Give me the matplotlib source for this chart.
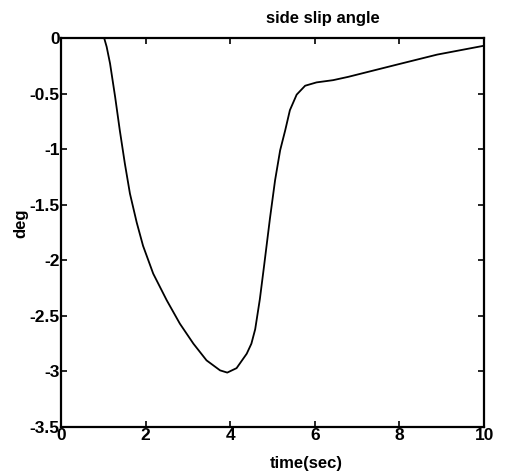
import matplotlib
matplotlib.use('Agg')
import matplotlib.pyplot as plt
import numpy as np

# side slip angle trace
t = [0.0, 1.02, 1.08, 1.16, 1.28, 1.39, 1.51, 1.63, 1.79, 1.94, 2.18, 2.50,
     2.81, 3.13, 3.44, 3.76, 3.93, 4.15, 4.39, 4.50, 4.59, 4.70, 4.80, 4.94, 5.06,
     5.18, 5.30, 5.41, 5.57, 5.77, 6.04, 6.43, 6.79, 7.94, 8.89, 10.0]
beta = [0.0, 0.0, -0.08, -0.23, -0.53, -0.83, -1.13, -1.40, -1.66, -1.87, -2.12, -2.36,
        -2.57, -2.75, -2.90, -2.99, -3.01, -2.97, -2.84, -2.75, -2.62, -2.35, -2.05, -1.62, -1.28,
        -1.01, -0.83, -0.65, -0.51, -0.43, -0.40, -0.38, -0.35, -0.24, -0.15, -0.07]

xticks = [0, 2, 4, 6, 8, 10]
yticks = [0, -0.5, -1, -1.5, -2, -2.5, -3, -3.5]
ytick_labels = ['0', '-0.5', '-1', '-1.5', '-2', '-2.5', '-3', '-3.5']

plt.rcParams['font.family'] = ['Liberation Sans', 'DejaVu Sans']

fig = plt.figure(figsize=(5.08, 4.74), dpi=100)
ax = fig.add_axes([0.120, 0.099, 0.833, 0.821])

ax.plot(t, beta, color='black', linewidth=1.3)

ax.set_xlim(0, 10)
ax.set_ylim(-3.5, 0)
ax.set_xticks(xticks)
ax.set_yticks(yticks)
ax.set_yticklabels(ytick_labels)

ax.tick_params(direction='in', top=True, right=True, length=4, width=1.2,
               labelsize=12.5, pad=1)
for lab in ax.get_xticklabels() + ax.get_yticklabels():
    lab.set_fontweight('bold')
for sp in ax.spines.values():
    sp.set_linewidth(1.6)

ax.set_xlabel('time(sec)', fontsize=12, fontweight='bold')
ax.xaxis.set_label_coords(0.58, -0.074)
ax.set_ylabel('deg', fontsize=12, fontweight='bold')
ax.yaxis.set_label_coords(-0.078, 0.524)
ax.set_title('side slip angle', fontsize=12, fontweight='bold', x=0.62, y=1.018)

fig.savefig('out.png', dpi=100)
